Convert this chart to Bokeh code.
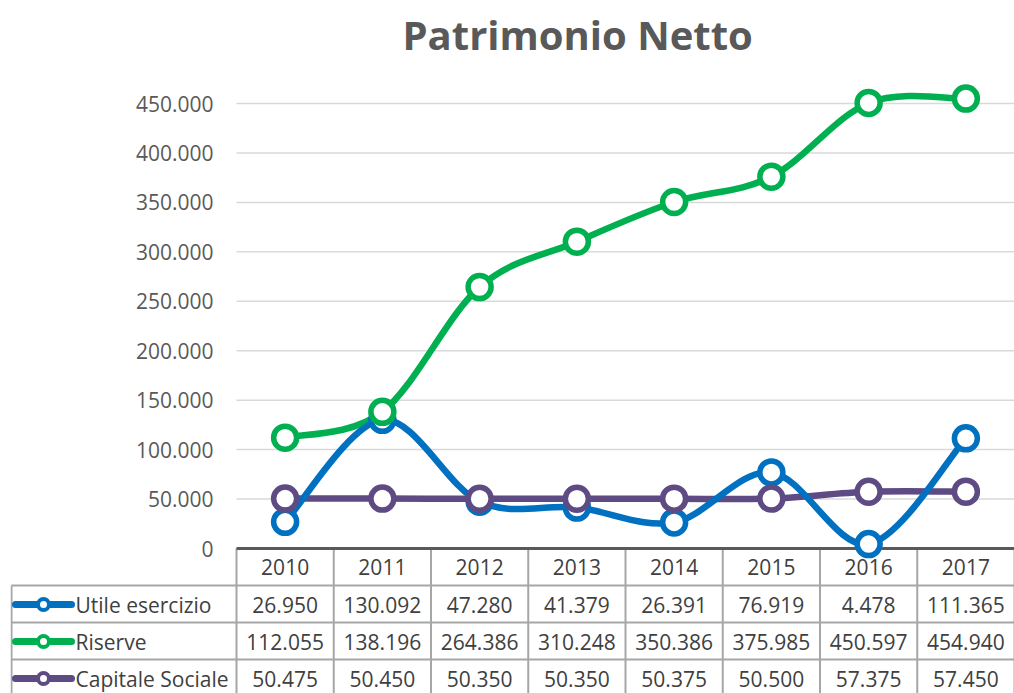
from bokeh.plotting import figure
from bokeh.models import Range1d, FixedTicker
from bokeh.embed import file_html
from bokeh.resources import INLINE
from bokeh.core.properties import value

# ---------------- data ----------------
years = ["2010", "2011", "2012", "2013", "2014", "2015", "2016", "2017"]
utile = [26950, 130092, 47280, 41379, 26391, 76919, 4478, 111365]
riserve = [112055, 138196, 264386, 310248, 350386, 375985, 450597, 454940]
capitale = [50475, 50450, 50350, 50350, 50375, 50500, 57375, 57450]
series_names = ["Utile esercizio", "Riserve", "Capitale Sociale"]
series_values = [utile, riserve, capitale]
series_colors = ["#0070C0", "#00B050", "#5E4B84"]
y_ticks = [0, 50000, 100000, 150000, 200000, 250000, 300000, 350000, 400000, 450000]

# ---------------- layout constants (pixels) ----------------
FONT = "Open Sans"
TXT = "#404040"
GRID = "#D9D9D9"
BORDER = "#A6A6A6"
W, H = 1014, 693
FRAME_LEFT = 10
TOP = 65
COLS_LEFT = 236
NCOL = len(years)
COL_W = (W - COLS_LEFT) / NCOL
ZERO_PX = 548
TOP_TICK_PX = 103
UPP = y_ticks[-1] / (ZERO_PX - TOP_TICK_PX)


def xpx(px):
    return (px - COLS_LEFT) / COL_W


def ypx(px):
    return (ZERO_PX - px) * UPP


def fmt(v):
    return f"{v:,}".replace(",", ".")


X_START, X_END = xpx(FRAME_LEFT), NCOL
Y_START, Y_END = ypx(H), ypx(TOP)

p = figure(width=W, height=H, output_backend="svg", toolbar_location=None,
           x_range=Range1d(X_START, X_END), y_range=Range1d(Y_START, Y_END),
           x_axis_location=None, min_border_left=FRAME_LEFT, min_border_right=0,
           min_border_top=TOP, min_border_bottom=0)
p.outline_line_color = None
p.background_fill_color = "white"
p.border_fill_color = "white"
p.grid.grid_line_color = None

p.title.text = "Patrimonio Netto"
p.title.text_font = FONT
p.title.text_font_style = "bold"
p.title.text_font_size = "40px"
p.title.text_color = "#595959"
p.title.align = "left"
p.title.offset = 402 - FRAME_LEFT
p.title.standoff = 7

# y axis: labels placed inside, right edge at x=213
p.yaxis.ticker = FixedTicker(ticks=y_ticks)
p.yaxis.major_label_overrides = {t: fmt(t) for t in y_ticks}
p.yaxis.axis_line_color = None
p.yaxis.major_tick_line_color = None
p.yaxis.minor_tick_line_color = None
p.yaxis.major_tick_out = 0
p.yaxis.major_tick_in = 0
p.yaxis.major_label_standoff = -(213 - FRAME_LEFT)
p.yaxis.major_label_text_font = FONT
p.yaxis.major_label_text_font_size = "21px"
p.yaxis.major_label_text_color = "#595959"

xc = [i + 0.5 for i in range(NCOL)]

# horizontal gridlines over the category area
gt = y_ticks[1:]
p.segment(x0=[0] * len(gt), y0=gt, x1=[NCOL] * len(gt), y1=gt,
          line_color=GRID, line_width=1.5)

# ---------------- data table ----------------
hdr_bot = ypx(585)
row_edges = [ypx(585), ypx(622), ypx(659)]
row_centers = [ypx(604), ypx(641), ypx(678)]
tbl_left = xpx(11)
p.segment(x0=list(range(NCOL + 1)), y0=[0] * (NCOL + 1),
          x1=list(range(NCOL + 1)), y1=[Y_START] * (NCOL + 1),
          line_color=BORDER, line_width=2)
p.segment(x0=[tbl_left] * len(row_edges), y0=row_edges,
          x1=[NCOL] * len(row_edges), y1=row_edges,
          line_color=BORDER, line_width=2)
p.segment(x0=[tbl_left], y0=[hdr_bot], x1=[tbl_left], y1=[Y_START],
          line_color=BORDER, line_width=2)
p.text(x=xc, y=[ypx(566)] * NCOL, text=years, text_font=value(FONT),
       text_font_size="21px", text_color=TXT, text_align="center",
       text_baseline="middle")

for yr, name, vals, col in zip(row_centers, series_names, series_values, series_colors):
    p.segment(x0=[xpx(15)], y0=[yr], x1=[xpx(71)], y1=[yr],
              line_color=col, line_width=7, line_cap="round")
    p.scatter(x=[xpx(43)], y=[yr], size=11, marker="circle",
              fill_color="white", line_color=col, line_width=4)
    p.text(x=[xpx(75)], y=[yr], text=[name], text_font=value(FONT),
           text_font_size="21px", text_color=TXT, text_align="left",
           text_baseline="middle")
    p.text(x=xc, y=[yr] * NCOL, text=[fmt(v) for v in vals], text_font=value(FONT),
           text_font_size="21px", text_color=TXT, text_align="center",
           text_baseline="middle")

# axis line at zero
p.segment(x0=[0], y0=[0], x1=[NCOL], y1=[0], line_color="#595959", line_width=3)

# smoothed lines (Catmull-Rom as cubic beziers): lines first, markers on top
for vals, col in reversed(list(zip(series_values, series_colors))):
    n = len(vals)
    x0, y0, x1, y1, cx0, cy0, cx1, cy1 = [], [], [], [], [], [], [], []
    for k in range(n - 1):
        km = k - 1 if k > 0 else k
        kp = k + 2 if k + 2 < n else k + 1
        x0.append(xc[k]); y0.append(vals[k])
        x1.append(xc[k + 1]); y1.append(vals[k + 1])
        cx0.append(xc[k] + (xc[k + 1] - xc[km]) / 6)
        cy0.append(vals[k] + (vals[k + 1] - vals[km]) / 6)
        cx1.append(xc[k + 1] - (xc[kp] - xc[k]) / 6)
        cy1.append(vals[k + 1] - (vals[kp] - vals[k]) / 6)
    p.bezier(x0=x0, y0=y0, x1=x1, y1=y1, cx0=cx0, cy0=cy0, cx1=cx1, cy1=cy1,
             line_color=col, line_width=6.5, line_cap="round")

for vals, col in zip(series_values, series_colors):
    p.scatter(x=xc, y=vals, size=23, marker="circle", fill_color="white",
              line_color=col, line_width=5.5)

open("out.html", "w").write(file_html(p, INLINE))
